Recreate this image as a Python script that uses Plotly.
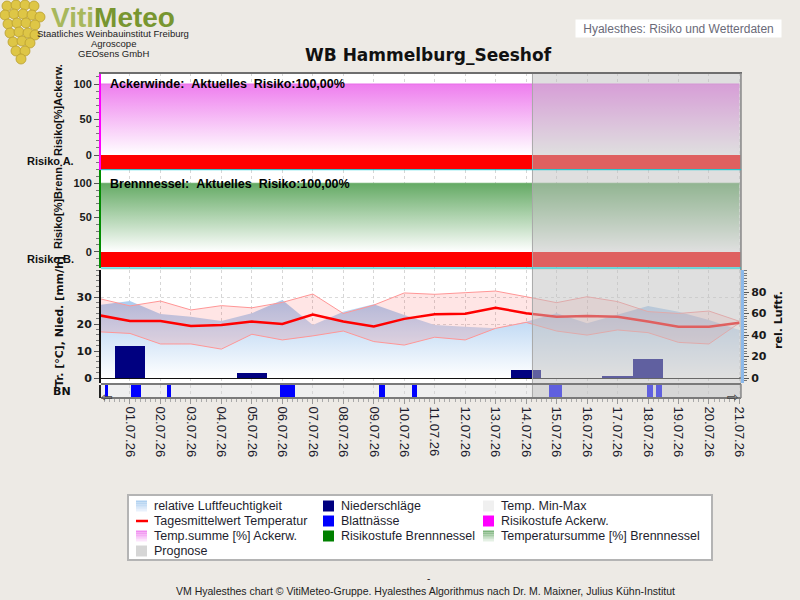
import plotly.graph_objects as go
import pandas as pd

# ---------------- data ----------------
station_title = "WB Hammelburg_Seeshof"
dates = ["2026-06-30", "2026-07-01", "2026-07-02", "2026-07-03", "2026-07-04", "2026-07-05",
         "2026-07-06", "2026-07-07", "2026-07-08", "2026-07-09", "2026-07-10", "2026-07-11",
         "2026-07-12", "2026-07-13", "2026-07-14", "2026-07-15", "2026-07-16", "2026-07-17",
         "2026-07-18", "2026-07-19", "2026-07-20", "2026-07-21"]
tick_dates = dates[1:]
tick_labels = ["01.07.26", "02.07.26", "03.07.26", "04.07.26", "05.07.26", "06.07.26", "07.07.26",
               "08.07.26", "09.07.26", "10.07.26", "11.07.26", "12.07.26", "13.07.26", "14.07.26",
               "15.07.26", "16.07.26", "17.07.26", "18.07.26", "19.07.26", "20.07.26", "21.07.26"]
humidity = [68.0, 71.6, 59.5, 57.0, 53.0, 60.2, 72.6, 49.3, 61.7, 68.6, 58.6, 49.3,
            47.7, 46.2, 52.4, 60.2, 50.9, 58.6, 67.0, 61.7, 54.0, 44.7]
temp_mean = [23.2, 21.1, 21.1, 19.3, 19.6, 20.9, 20.0, 23.5, 20.9, 19.1, 21.9, 23.6,
             23.8, 26.0, 24.0, 22.7, 23.0, 22.7, 20.9, 19.0, 19.0, 20.5]
temp_max = [29.4, 26.7, 28.5, 25.2, 26.8, 26.0, 28.0, 31.1, 23.9, 27.0, 31.5, 31.0,
            31.6, 32.2, 30.1, 27.9, 30.1, 28.3, 24.6, 23.9, 24.8, 21.0]
temp_min = [17.1, 16.5, 12.6, 12.6, 10.7, 16.2, 14.1, 15.6, 17.4, 13.5, 12.2, 15.1,
            14.1, 18.4, 20.6, 17.4, 15.9, 17.8, 16.8, 13.2, 12.6, 20.4]
precip = [0, 11.9, 0, 0, 0, 1.8, 0, 0, 0, 0, 0, 0,
          0, 0, 3.0, 0, 0, 0.4, 7.0, 0, 0, 0]
tsum_ackerw = [100, 100, 100, 100, 100, 100, 100, 100, 100, 100, 100, 100,
               100, 100, 100, 100, 100, 100, 100, 100, 100, 100]
tsum_brenn = [100, 100, 100, 100, 100, 100, 100, 100, 100, 100, 100, 100,
              100, 100, 100, 100, 100, 100, 100, 100, 100, 100]
risk_ackerw = [3, 3, 3, 3, 3, 3, 3, 3, 3, 3, 3, 3, 3, 3, 3, 3, 3, 3, 3, 3, 3, 3]
risk_brenn = [3, 3, 3, 3, 3, 3, 3, 3, 3, 3, 3, 3, 3, 3, 3, 3, 3, 3, 3, 3, 3, 3]
bn_start = ["2026-06-30 04:30", "2026-07-01 01:00", "2026-07-02 05:00", "2026-07-05 22:00",
            "2026-07-09 04:00", "2026-07-10 06:00", "2026-07-14 18:00", "2026-07-17 23:00",
            "2026-07-18 06:00"]
bn_end = ["2026-06-30 06:30", "2026-07-01 09:00", "2026-07-02 08:00", "2026-07-06 10:00",
          "2026-07-09 09:00", "2026-07-10 10:00", "2026-07-15 04:00", "2026-07-18 04:00",
          "2026-07-18 11:00"]
prognose_start = "2026-07-14 05:00"
risk_now_ackerw = "100,00%"
risk_now_brenn = "100,00%"

# ---------------- layout constants ----------------
L, T, W, H = 101, 73, 640, 325
BG = "#EDEAE5"
DAY_MS = 86400000
X_RANGE = ["2026-06-30 01:10", "2026-07-21 01:15"]
Y1_RANGE = [-20.4, 115.5]
Y2_RANGE = [-23.8, 119.4]
YH_RANGE = [-4.65, 100.47]
YT_RANGE = [-1.85, 40]
RISK_COLORS = {1: "rgb(0,170,0)", 2: "rgb(255,220,0)", 3: "rgb(255,0,0)"}


def px(x):
    return (x - L) / W


def py(y):
    return (T + H - y) / H


fig = go.Figure()

# ---- top panel: Ackerwinde ----
fig.add_trace(go.Scatter(
    x=dates, y=tsum_ackerw, yaxis="y", mode="lines", fill="tozeroy",
    line=dict(color="rgb(232,110,232)", width=1),
    fillgradient=dict(type="vertical", start=0, stop=100,
                      colorscale=[[0, "rgb(255,255,255)"], [1, "rgb(238,125,238)"]])))
fig.add_trace(go.Bar(
    x=dates, y=[Y1_RANGE[0] for _ in risk_ackerw], base=0, width=DAY_MS, yaxis="y",
    marker=dict(color=[RISK_COLORS[r] for r in risk_ackerw], line=dict(width=0))))

# ---- middle panel: Brennnessel ----
fig.add_trace(go.Scatter(
    x=dates, y=tsum_brenn, yaxis="y2", mode="lines", fill="tozeroy",
    line=dict(color="rgb(110,175,110)", width=1),
    fillgradient=dict(type="vertical", start=0, stop=100,
                      colorscale=[[0, "rgb(255,255,255)"], [1, "rgb(100,170,100)"]])))
fig.add_trace(go.Bar(
    x=dates, y=[Y2_RANGE[0] + 1.5 for _ in risk_brenn], base=0, width=DAY_MS, yaxis="y2",
    marker=dict(color=[RISK_COLORS[r] for r in risk_brenn], line=dict(width=0))))

# ---- bottom panel: weather ----
fig.add_trace(go.Scatter(
    x=dates, y=humidity, yaxis="y3", mode="lines", fill="tozeroy",
    line=dict(width=0, color="rgba(150,190,235,0.6)"),
    fillgradient=dict(type="vertical", start=0, stop=max(humidity),
                      colorscale=[[0, "rgb(255,255,255)"], [1, "rgb(170,204,240)"]])))
fig.add_trace(go.Bar(
    x=dates, y=precip, yaxis="y4", width=DAY_MS,
    marker=dict(color="rgb(0,0,128)", line=dict(width=0))))
fig.add_trace(go.Scatter(
    x=dates, y=temp_max, yaxis="y4", mode="lines",
    line=dict(color="rgb(255,150,150)", width=1)))
fig.add_trace(go.Scatter(
    x=dates, y=temp_min, yaxis="y4", mode="lines", fill="tonexty",
    fillcolor="rgba(255,0,0,0.10)", line=dict(color="rgb(255,150,150)", width=1)))
fig.add_trace(go.Scatter(
    x=dates, y=temp_mean, yaxis="y4", mode="lines",
    line=dict(color="rgb(255,0,0)", width=2.5)))

# ---- BN strip: Blattnässe ----
s = pd.to_datetime(pd.Series(bn_start))
e = pd.to_datetime(pd.Series(bn_end))
mid = s + (e - s) / 2
wid = ((e - s).dt.total_seconds() * 1000).tolist()
fig.add_trace(go.Bar(
    x=mid.dt.strftime("%Y-%m-%d %H:%M:%S").tolist(), y=[1 for _ in bn_start], base=0,
    width=wid, yaxis="y5", marker=dict(color="rgb(0,0,255)", line=dict(width=0))))

tick_bold = dict(family="Liberation Sans", size=11, color="#1a1a1a", weight="bold")
tick_bold2 = dict(family="DejaVu Sans", size=11, color="#1a1a1a", weight="bold")

fig.update_layout(
    width=800, height=600, autosize=False,
    margin=dict(l=L, r=800 - L - W, t=T, b=600 - T - H, autoexpand=False),
    paper_bgcolor=BG, plot_bgcolor="white", showlegend=False,
    barmode="overlay", bargap=0,
    xaxis=dict(type="date", range=X_RANGE, anchor="y5",
               tickmode="array", tickvals=tick_dates, ticktext=tick_labels, tickangle=90,
               tickfont=dict(family="Liberation Sans", size=13, color="#1c1c2c"),
               ticks="outside", ticklen=5, tickcolor="#999", tickwidth=1,
               showgrid=True, gridcolor="#d6d6d6", griddash="dot", gridwidth=1,
               showline=False, zeroline=False,
               minor=dict(tickmode="linear", tick0="2026-06-30", dtick=4 * 3600 * 1000,
                          ticks="outside", ticklen=3, tickcolor="#aaa", showgrid=False)),
    yaxis=dict(domain=[py(169.5), 1.0], range=Y1_RANGE, anchor="x",
               tickmode="array", tickvals=[0, 50, 100], tickfont=tick_bold,
               ticks="outside", ticklen=5, tickcolor="#555",
               minor=dict(tickmode="linear", tick0=0, dtick=10, ticks="outside", ticklen=3, tickcolor="#777"),
               showline=True, linecolor="rgb(255,0,255)", linewidth=2,
               showgrid=False, zeroline=False),
    yaxis2=dict(domain=[py(268), py(170)], range=Y2_RANGE, anchor="x",
                tickmode="array", tickvals=[0, 50, 100], tickfont=tick_bold,
                ticks="outside", ticklen=5, tickcolor="#555",
                minor=dict(tickmode="linear", tick0=0, dtick=10, ticks="outside", ticklen=3, tickcolor="#777"),
                showline=True, linecolor="rgb(0,140,0)", linewidth=2,
                showgrid=False, zeroline=False),
    yaxis3=dict(domain=[py(383), py(270)], range=YH_RANGE, anchor="x", side="right",
                tickmode="array", tickvals=[0, 20, 40, 60, 80], tickfont=tick_bold2,
                ticks="outside", ticklen=5, tickcolor="#555",
                minor=dict(tickmode="linear", tick0=0, dtick=2.5, ticks="outside", ticklen=3, tickcolor="#777"),
                showline=True, linecolor="rgb(140,185,235)", linewidth=3,
                showgrid=False, zeroline=False),
    yaxis4=dict(overlaying="y3", range=YT_RANGE, anchor="x", side="left",
                tickmode="array", tickvals=[0, 10, 20, 30], tickfont=tick_bold2,
                ticks="outside", ticklen=5, tickcolor="#555",
                minor=dict(tickmode="linear", tick0=0, dtick=2, ticks="outside", ticklen=3, tickcolor="#777"),
                showline=True, linecolor="#111", linewidth=2,
                showgrid=True, gridcolor="#dadada", griddash="dot",
                zeroline=True, zerolinecolor="#111", zerolinewidth=1.5),
    yaxis5=dict(domain=[0, py(385)], range=[0, 1], anchor="x",
                showticklabels=False, ticks="", showline=True, linecolor="#222", linewidth=2,
                showgrid=False, zeroline=False),
)

shapes = []
# BN strip background
shapes.append(dict(type="rect", xref="x domain", yref="y5 domain", x0=0, x1=1, y0=0, y1=1,
                   fillcolor="#efefef", line=dict(width=0), layer="below"))
# Prognose overlay
shapes.append(dict(type="rect", xref="x", yref="paper", x0=prognose_start, x1=X_RANGE[1], y0=0, y1=1,
                   fillcolor="rgba(192,192,192,0.5)", line=dict(width=1, color="#a9a9a9"), layer="above"))
# panel frame lines
shapes.append(dict(type="line", xref="paper", yref="paper", x0=px(99), x1=px(742), y0=1, y1=1,
                   line=dict(color="#6e6e6e", width=2), layer="above"))
shapes.append(dict(type="line", xref="paper", yref="paper", x0=1, x1=1, y0=py(270), y1=1,
                   line=dict(color="#8a8a8a", width=1.5), layer="above"))
shapes.append(dict(type="line", xref="paper", yref="paper", x0=0, x1=1, y0=py(169.7), y1=py(169.7),
                   line=dict(color="rgb(0,205,215)", width=1), layer="above"))
shapes.append(dict(type="line", xref="paper", yref="paper", x0=0, x1=1, y0=py(268), y1=py(268),
                   line=dict(color="rgb(0,205,215)", width=1), layer="above"))
shapes.append(dict(type="line", xref="paper", yref="paper", x0=0, x1=1, y0=py(384), y1=py(384),
                   line=dict(color="#7a7a7a", width=2), layer="above"))
shapes.append(dict(type="line", xref="paper", yref="paper", x0=0, x1=1, y0=py(398), y1=py(398),
                   line=dict(color="#7a7a7a", width=2), layer="above"))
shapes.append(dict(type="line", xref="paper", yref="paper", x0=1, x1=1, y0=0, y1=py(384),
                   line=dict(color="#8a8a8a", width=1.5), layer="above"))

# grape bunch decoration (logo)
grapes = [(7, 6), (16, 5), (25, 5), (34, 6),
          (5, 15), (14, 14), (23, 14), (32, 15), (40, 17),
          (8, 24), (17, 23), (26, 23), (35, 25),
          (10, 33), (19, 32), (28, 33), (35, 35),
          (13, 42), (22, 41), (30, 43),
          (16, 51), (25, 51), (21, 59)]
for gx, gy in grapes:
    shapes.append(dict(type="circle", xref="paper", yref="paper",
                       x0=px(gx - 5), x1=px(gx + 5), y0=py(gy + 5), y1=py(gy - 5),
                       fillcolor="rgb(222,198,70)", line=dict(color="rgb(185,158,45)", width=0.8)))

# legend box
shapes.append(dict(type="rect", xref="paper", yref="paper", x0=px(128), x1=px(712), y0=py(560), y1=py(495),
                   fillcolor="white", line=dict(color="#b4b4b4", width=2)))

annotations = []


def ann(text, x, y, size=11, family="Liberation Sans", color="#111", weight="normal",
        xanchor="center", yanchor="middle", angle=0, **kw):
    annotations.append(dict(text=text, xref="paper", yref="paper", x=px(x), y=py(y),
                            xanchor=xanchor, yanchor=yanchor, textangle=angle, showarrow=False,
                            font=dict(family=family, size=size, color=color, weight=weight), **kw))


def mix(c1, c2, t):
    return "rgb(%d,%d,%d)" % tuple(round(a + (b - a) * t) for a, b in zip(c1, c2))


# legend entries
cols = [136, 323, 483]
rows = [506, 521, 536, 551]
legend_items = [
    (0, 0, "relative Luftfeuchtigkeit", "grad", ((175, 208, 240), (232, 241, 252))),
    (1, 0, "Niederschläge", "box", "rgb(0,0,128)"),
    (2, 0, "Temp. Min-Max", "box", "rgb(240,240,240)"),
    (0, 1, "Tagesmittelwert Temperatur", "line", "rgb(255,0,0)"),
    (1, 1, "Blattnässe", "box", "rgb(0,0,255)"),
    (2, 1, "Risikostufe Ackerw.", "box", "rgb(255,0,255)"),
    (0, 2, "Temp.summe [%] Ackerw.", "grad", ((240, 140, 240), (252, 228, 252))),
    (1, 2, "Risikostufe Brennnessel", "box", "rgb(0,128,0)"),
    (2, 2, "Temperatursumme [%] Brennnessel", "grad", ((125, 180, 125), (228, 240, 228))),
    (0, 3, "Prognose", "box", "rgb(214,214,214)"),
]
for c, r, label, kind, col in legend_items:
    x0, yc = cols[c], rows[r]
    if kind == "box":
        shapes.append(dict(type="rect", xref="paper", yref="paper", x0=px(x0), x1=px(x0 + 11),
                           y0=py(yc + 5.5), y1=py(yc - 5.5), fillcolor=col, line=dict(width=0)))
    elif kind == "line":
        shapes.append(dict(type="line", xref="paper", yref="paper", x0=px(x0), x1=px(x0 + 12),
                           y0=py(yc), y1=py(yc), line=dict(color=col, width=2.5)))
    else:
        n = 6
        for i in range(n):
            shapes.append(dict(type="rect", xref="paper", yref="paper", x0=px(x0), x1=px(x0 + 11),
                               y0=py(yc - 5.5 + 11 * (i + 1) / n), y1=py(yc - 5.5 + 11 * i / n),
                               fillcolor=mix(col[0], col[1], i / (n - 1)), line=dict(width=0)))
    ann(label, x0 + 16, yc, size=12.5, color="#1e1e2e", xanchor="left")

# titles & logo
ann(station_title, 428, 55, size=17, family="DejaVu Sans", weight="bold", color="#111")
ann("<span style='color:rgb(168,184,92)'>Viti</span><span style='color:rgb(120,150,48)'>Meteo</span>",
    113, 0, size=28, weight="bold", yanchor="top")
ann("Staatliches Weinbauinstitut Freiburg", 113, 33, size=9.5, color="#222")
ann("Agroscope", 113, 43.5, size=9.5, color="#222")
ann("GEOsens GmbH", 113, 54, size=9.5, color="#222")
ann("Hyalesthes: Risiko und Wetterdaten", 678.5, 29, size=12, color="#6a6a78",
    bgcolor="white", width=203, height=15, borderpad=1)

# panel texts
sp = "\u00a0\u00a0"
ann("Ackerwinde:" + sp + "Aktuelles" + sp + "Risiko:" + risk_now_ackerw, 108, 84, size=12.5,
    weight="bold", color="#000", xanchor="left")
ann("Brennnessel:" + sp + "Aktuelles" + sp + "Risiko:" + risk_now_brenn, 108, 184, size=12.5,
    weight="bold", color="#000", xanchor="left")

# axis titles
ann("Risiko[%]Ackerw.", 58, 110, size=11, weight="bold", angle=-90)
ann("Risiko[%]Brenn.", 58, 207, size=11, weight="bold", angle=-90)
ann("Tr. [°C], Nied. [mm/h]", 59, 322, size=11, family="DejaVu Sans", weight="bold", angle=-90)
ann("rel. Luftf.", 778, 320, size=11, family="DejaVu Sans", weight="bold", angle=-90)
ann("Risiko A.", 25, 161, size=11, weight="bold", xanchor="left")
ann("Risiko B.", 25, 259, size=11, weight="bold", xanchor="left")
ann("BN", 62, 391, size=11, family="DejaVu Sans", weight="bold")
ann("⇦", 107, 397, size=14, family="DejaVu Sans", color="#444")
ann("⇨", 733, 397, size=14, family="DejaVu Sans", color="#444")

# footer
ann("-", 428, 578, size=10, color="#222")
ann("VM Hyalesthes chart © VitiMeteo-Gruppe. Hyalesthes Algorithmus nach Dr. M. Maixner, Julius Kühn-Institut",
    425, 591, size=10.5, color="#222")

fig.update_layout(shapes=shapes, annotations=annotations)
fig.write_html("out.html")
